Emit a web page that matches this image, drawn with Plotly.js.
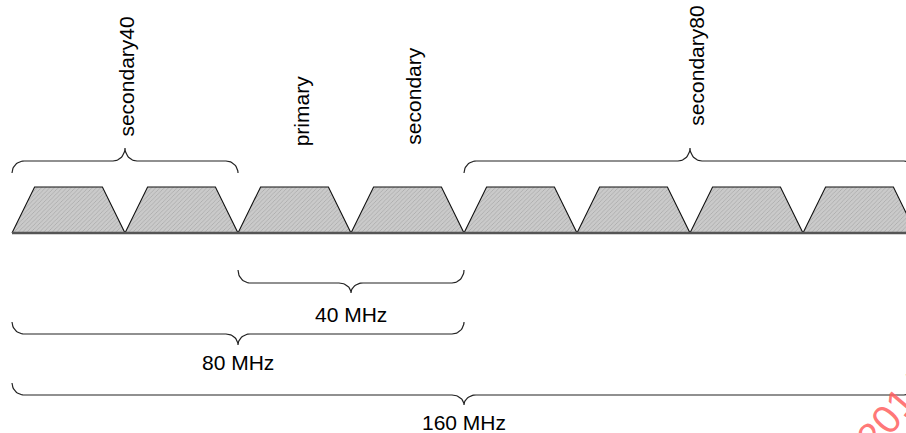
<!DOCTYPE html>
<html>
<head>
<meta charset="utf-8">
<script src="https://cdn.plot.ly/plotly-3.0.1.min.js"></script>
<style>html,body{margin:0;padding:0;background:#fff;}#chart{width:906px;height:433px;}</style>
</head>
<body>
<div id="chart"></div>
<script>
// ---- data (MHz) ----
const channelStarts = [0, 20, 40, 60, 80, 100, 120, 140];
const channelWidth = 20;
const channelSlope = 4;             // MHz of rising/falling edge of each channel mask
const topBraceSpans = [[0, 40], [80, 160]];
const topLabels = ['secondary40', 'primary', 'secondary', 'secondary80'];
const topLabelPos = [20.1, 51.3, 71.0, 121.0];
const bottomBraceSpans = [[40, 80], [0, 80], [0, 160]];
const bottomLabels = ['40 MHz', '80 MHz', '160 MHz'];
const watermarkText = '2014';

// ---- layout helpers (vertical levels in px of the 433px canvas) ----
const W = 906, H = 433, padLeft = 12, pxPerMHz = 5.65;
const maskBottom = 233, maskTop = 187;
const topBraceLv = {end: 173, line: 161, tip: 148};
const topLabelBottom = [139, 148, 147, 128];
const bottomBraceLv = [
  {end: 270, line: 283, tip: 293, label: 314},
  {end: 322, line: 334, tip: 345, label: 362},
  {end: 383, line: 395, tip: 405, label: 422}
];
const rx = 12 / pxPerMHz;

function brace(x0, x1, lv) {
  const xs = [], ys = [], n = 16, xc = (x0 + x1) / 2;
  const h1 = lv.end - lv.line, h2 = lv.line - lv.tip;
  for (let i = 0; i <= n; i++) { const t = i / n * Math.PI / 2;
    xs.push(x0 + rx - rx * Math.cos(t)); ys.push(lv.end - h1 * Math.sin(t)); }
  for (let i = 0; i <= n; i++) { const t = i / n * Math.PI / 2;
    xs.push(xc - rx + rx * Math.sin(t)); ys.push(lv.tip + h2 * Math.cos(t)); }
  for (let i = n; i >= 0; i--) { const t = i / n * Math.PI / 2;
    xs.push(xc + rx - rx * Math.sin(t)); ys.push(lv.tip + h2 * Math.cos(t)); }
  for (let i = n; i >= 0; i--) { const t = i / n * Math.PI / 2;
    xs.push(x1 - rx + rx * Math.cos(t)); ys.push(lv.end - h1 * Math.sin(t)); }
  return {x: xs, y: ys, mode: 'lines', line: {color: '#222', width: 1.2, shape: 'linear'},
          hoverinfo: 'skip', showlegend: false};
}

const traces = [];
channelStarts.forEach(s => {
  traces.push({
    x: [s, s + channelSlope, s + channelWidth - channelSlope, s + channelWidth, s],
    y: [maskBottom, maskTop, maskTop, maskBottom, maskBottom],
    mode: 'lines', fill: 'toself',
    fillcolor: '#c4c4c4',
    fillpattern: {shape: '/', size: 3, solidity: 0.2, fgcolor: '#a0a0a0', bgcolor: '#cacaca'},
    line: {color: '#111', width: 1.1}, hoverinfo: 'skip', showlegend: false
  });
});
traces.push({x: [channelStarts[0], channelStarts[channelStarts.length - 1] + channelWidth],
  y: [maskBottom, maskBottom], mode: 'lines', line: {color: '#555', width: 2.4},
  hoverinfo: 'skip', showlegend: false});
topBraceSpans.forEach(sp => traces.push(brace(sp[0], sp[1], topBraceLv)));
bottomBraceSpans.forEach((sp, i) => traces.push(brace(sp[0], sp[1], bottomBraceLv[i])));

const font = {family: 'Liberation Sans, Arial, sans-serif', size: 21, color: '#000'};
const annotations = [];
topLabels.forEach((t, i) => annotations.push({
  x: topLabelPos[i], y: topLabelBottom[i], xref: 'x', yref: 'y', text: t, textangle: -90,
  showarrow: false, xanchor: 'center', yanchor: 'bottom', font: font
}));
bottomLabels.forEach((t, i) => annotations.push({
  x: (bottomBraceSpans[i][0] + bottomBraceSpans[i][1]) / 2, y: bottomBraceLv[i].label,
  xref: 'x', yref: 'y', text: t, showarrow: false, xanchor: 'center', yanchor: 'middle', font: font
}));
annotations.push({x: (893 - padLeft) / pxPerMHz, y: 411, xref: 'x', yref: 'y', text: watermarkText, textangle: -50,
  showarrow: false, font: {family: 'Liberation Sans, Arial, sans-serif', size: 40, color: 'rgba(255,95,95,0.85)'},
  xanchor: 'center', yanchor: 'middle'});

const layout = {
  width: W, height: H, margin: {l: 0, r: 0, t: 0, b: 0},
  paper_bgcolor: '#fff', plot_bgcolor: '#fff',
  xaxis: {range: [-padLeft / pxPerMHz, (W - padLeft) / pxPerMHz], visible: false, fixedrange: true},
  yaxis: {range: [H, 0], visible: false, fixedrange: true},
  annotations: annotations, showlegend: false
};
Plotly.newPlot('chart', traces, layout, {staticPlot: true, displayModeBar: false});
</script>
</body>
</html>
